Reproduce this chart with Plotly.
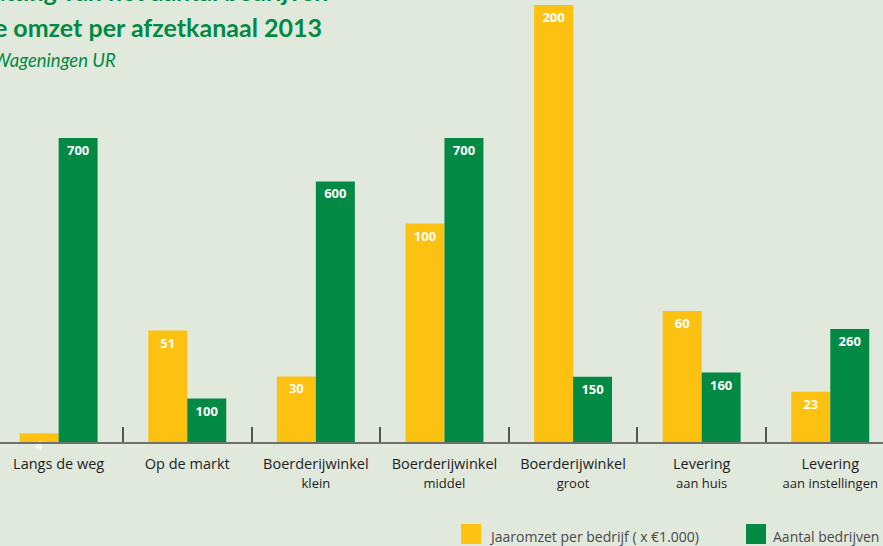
import plotly.graph_objects as go

categories = ["Langs de weg", "Op de markt", "Boerderijwinkel klein", "Boerderijwinkel middel",
              "Boerderijwinkel groot", "Levering aan huis", "Levering aan instellingen"]
tick_labels = ["Langs de weg", "Op de markt",
               "Boerderijwinkel<br><span style='font-size:13px'>klein</span>",
               "Boerderijwinkel<br><span style='font-size:13px'>middel</span>",
               "Boerderijwinkel<br><span style='font-size:13px'>groot</span>",
               "Levering<br><span style='font-size:13px'>aan huis</span>",
               "Levering<br><span style='font-size:13px'>aan instellingen</span>"]
jaaromzet = [4, 51, 30, 100, 200, 60, 23]
aantal = [700, 100, 600, 700, 150, 160, 260]

BG = "#E1E8DC"
YEL = "#FDC112"
GRN = "#028A45"
TXT = "#1E1E1E"
FONT = "Lato, 'Open Sans', sans-serif"
LFONT = "'Open Sans', sans-serif"

fig = go.Figure()
fig.add_trace(go.Bar(
    x=categories, y=jaaromzet, name="Jaaromzet per bedrijf ( x €1.000)",
    marker=dict(color=YEL, line=dict(width=0)),
    width=0.303, offset=-0.303, cliponaxis=False,
    text=[str(v) for v in jaaromzet], textposition="inside", insidetextanchor="end",
    constraintext="none", textangle=0,
    insidetextfont=dict(color="white", size=13, family=LFONT, weight="bold"),
    yaxis="y", showlegend=False, hoverinfo="skip"))
fig.add_trace(go.Bar(
    x=categories, y=aantal, name="Aantal bedrijven",
    marker=dict(color=GRN, line=dict(width=0)),
    width=0.303, offset=0, cliponaxis=False,
    text=[str(v) for v in aantal], textposition="inside", insidetextanchor="end",
    constraintext="none", textangle=0,
    insidetextfont=dict(color="white", size=13, family=LFONT, weight="bold"),
    yaxis="y2", showlegend=False, hoverinfo="skip"))

fig.update_layout(
    width=883, height=546,
    margin=dict(l=0, r=0, t=0, b=104),
    paper_bgcolor=BG, plot_bgcolor=BG,
    font=dict(family=FONT, color=TXT),
    xaxis=dict(
        type="category", range=[-0.456, 6.41], tickmode="array", tickvals=categories, ticktext=tick_labels,
        tickson="boundaries", ticks="inside", ticklen=15, tickwidth=1.5, tickcolor="#555555",
        showline=True, linecolor="#707070", linewidth=2, showgrid=False, zeroline=False,
        tickfont=dict(size=14.5, color=TXT, family=LFONT), ticklabelstandoff=8,
    ),
    yaxis=dict(range=[0, 202.3], visible=False, showgrid=False, zeroline=False),
    yaxis2=dict(range=[0, 1018], visible=False, overlaying="y", showgrid=False, zeroline=False),
    annotations=[
        dict(text="<b>Schatting van het aantal bedrijven</b>", xref="paper", yref="paper",
             x=330/883, y=(442 - (-9)) / 442, xanchor="right", yanchor="middle",
             showarrow=False, font=dict(size=25, color=GRN, family=FONT)),
        dict(text="<b>en de gemiddelde omzet per afzetkanaal 2013</b>", xref="paper", yref="paper",
             x=324/883, y=(442 - 27) / 442, xanchor="right", yanchor="middle",
             showarrow=False, font=dict(size=25, color=GRN, family=FONT)),
        dict(text="<i>Bron: Wageningen UR</i>", xref="paper", yref="paper",
             x=118/883, y=(442 - 60) / 442, xanchor="right", yanchor="middle",
             showarrow=False, font=dict(size=18.5, color=GRN, family=FONT)),
        dict(text="Jaaromzet per bedrijf ( x €1.000)", xref="paper", yref="paper",
             x=487/883, y=(442 - 536) / 442, xanchor="left", yanchor="middle",
             showarrow=False, font=dict(size=14, color="#4A4A4A", family=LFONT)),
        dict(text="Aantal bedrijven", xref="paper", yref="paper",
             x=771/883, y=(442 - 536) / 442, xanchor="left", yanchor="middle",
             showarrow=False, font=dict(size=14, color="#4A4A4A", family=LFONT)),
    ],
    shapes=[
        dict(type="rect", xref="paper", yref="paper", x0=461/883, x1=481/883,
             y0=(442 - 544) / 442, y1=(442 - 524) / 442, fillcolor=YEL, line=dict(width=0)),
        dict(type="rect", xref="paper", yref="paper", x0=746/883, x1=766/883,
             y0=(442 - 544) / 442, y1=(442 - 524) / 442, fillcolor=GRN, line=dict(width=0)),
    ],
)

fig.write_html("out.html")
